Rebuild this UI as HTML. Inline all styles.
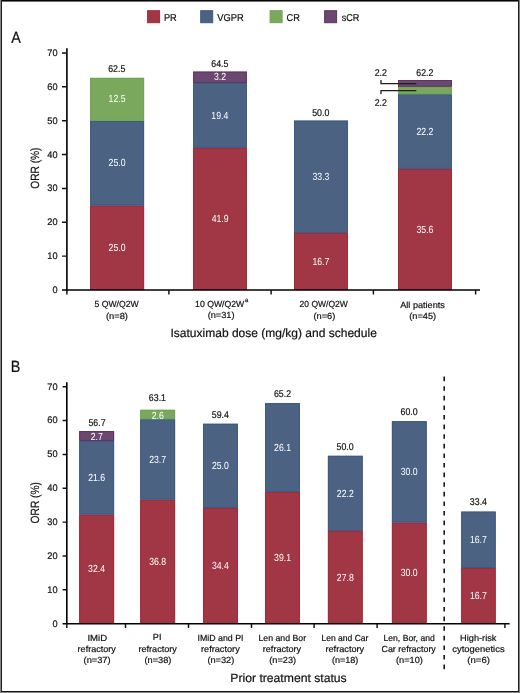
<!DOCTYPE html>
<html><head><meta charset="utf-8"><style>
html,body{margin:0;padding:0;background:#fff;}
body{width:520px;height:693px;overflow:hidden;position:relative;}
svg{position:absolute;left:0;top:0;will-change:transform;}
text{text-rendering:geometricPrecision;font-family:'Liberation Sans', sans-serif;}
text[fill='#111']{stroke:#111;stroke-width:0.2px;}
</style></head><body>
<svg width="520" height="693" viewBox="0 0 520 693">
<rect x="0" y="0" width="520" height="693" fill="#fff"/>
<rect x="0" y="0" width="1" height="693" fill="#868686"/>
<rect x="519" y="0" width="1" height="693" fill="#828282"/>
<rect x="0" y="692" width="520" height="1" fill="#868686"/>
<rect x="1" y="1" width="517" height="1" fill="#727272"/>
<rect x="1" y="0" width="518" height="1" fill="#050505"/>
<rect x="1" y="0" width="1" height="692" fill="#1e1e1e"/>
<rect x="518" y="0" width="1" height="692" fill="#1e1e1e"/>
<rect x="1" y="691" width="518" height="1" fill="#1a1a1a"/>
<rect x="90.10" y="205.40" width="54.00" height="84.60" fill="#A13744"/>
<rect x="90.60" y="205.90" width="53.00" height="83.60" fill="none" stroke="#A62838" stroke-width="1"/>
<rect x="90.10" y="120.80" width="54.00" height="84.60" fill="#4C6282"/>
<rect x="90.60" y="121.30" width="53.00" height="83.60" fill="none" stroke="#3B5A86" stroke-width="1"/>
<rect x="90.10" y="77.85" width="54.00" height="42.95" fill="#7AA85C"/>
<rect x="90.60" y="78.35" width="53.00" height="41.95" fill="none" stroke="#6FA552" stroke-width="1"/>
<rect x="193.10" y="147.80" width="53.80" height="142.20" fill="#A13744"/>
<rect x="193.60" y="148.30" width="52.80" height="141.20" fill="none" stroke="#A62838" stroke-width="1"/>
<rect x="193.10" y="82.90" width="53.80" height="64.90" fill="#4C6282"/>
<rect x="193.60" y="83.40" width="52.80" height="63.90" fill="none" stroke="#3B5A86" stroke-width="1"/>
<rect x="193.10" y="71.60" width="53.80" height="11.30" fill="#6C4870"/>
<rect x="193.60" y="72.10" width="52.80" height="10.30" fill="none" stroke="#5E3461" stroke-width="1"/>
<rect x="294.00" y="232.90" width="53.90" height="57.10" fill="#A13744"/>
<rect x="294.50" y="233.40" width="52.90" height="56.10" fill="none" stroke="#A62838" stroke-width="1"/>
<rect x="294.00" y="120.60" width="53.90" height="112.30" fill="#4C6282"/>
<rect x="294.50" y="121.10" width="52.90" height="111.30" fill="none" stroke="#3B5A86" stroke-width="1"/>
<rect x="398.00" y="168.85" width="53.90" height="121.15" fill="#A13744"/>
<rect x="398.50" y="169.35" width="52.90" height="120.15" fill="none" stroke="#A62838" stroke-width="1"/>
<rect x="398.00" y="94.20" width="53.90" height="74.65" fill="#4C6282"/>
<rect x="398.50" y="94.70" width="52.90" height="73.65" fill="none" stroke="#3B5A86" stroke-width="1"/>
<rect x="398.00" y="86.70" width="53.90" height="7.50" fill="#7AA85C"/>
<rect x="398.50" y="87.20" width="52.90" height="6.50" fill="none" stroke="#6FA552" stroke-width="1"/>
<rect x="398.00" y="80.00" width="53.90" height="6.70" fill="#6C4870"/>
<rect x="398.50" y="80.50" width="52.90" height="5.70" fill="none" stroke="#5E3461" stroke-width="1"/>
<rect x="79.20" y="514.50" width="34.90" height="109.20" fill="#A13744"/>
<rect x="79.70" y="515.00" width="33.90" height="108.20" fill="none" stroke="#A62838" stroke-width="1"/>
<rect x="79.20" y="440.90" width="34.90" height="73.60" fill="#4C6282"/>
<rect x="79.70" y="441.40" width="33.90" height="72.60" fill="none" stroke="#3B5A86" stroke-width="1"/>
<rect x="79.20" y="431.10" width="34.90" height="9.80" fill="#6C4870"/>
<rect x="79.70" y="431.60" width="33.90" height="8.80" fill="none" stroke="#5E3461" stroke-width="1"/>
<rect x="140.20" y="499.60" width="34.90" height="124.10" fill="#A13744"/>
<rect x="140.70" y="500.10" width="33.90" height="123.10" fill="none" stroke="#A62838" stroke-width="1"/>
<rect x="140.20" y="419.20" width="34.90" height="80.40" fill="#4C6282"/>
<rect x="140.70" y="419.70" width="33.90" height="79.40" fill="none" stroke="#3B5A86" stroke-width="1"/>
<rect x="140.20" y="409.80" width="34.90" height="9.40" fill="#7AA85C"/>
<rect x="140.70" y="410.30" width="33.90" height="8.40" fill="none" stroke="#6FA552" stroke-width="1"/>
<rect x="203.00" y="507.90" width="35.00" height="115.80" fill="#A13744"/>
<rect x="203.50" y="508.40" width="34.00" height="114.80" fill="none" stroke="#A62838" stroke-width="1"/>
<rect x="203.00" y="423.75" width="35.00" height="84.15" fill="#4C6282"/>
<rect x="203.50" y="424.25" width="34.00" height="83.15" fill="none" stroke="#3B5A86" stroke-width="1"/>
<rect x="265.00" y="491.90" width="35.00" height="131.80" fill="#A13744"/>
<rect x="265.50" y="492.40" width="34.00" height="130.80" fill="none" stroke="#A62838" stroke-width="1"/>
<rect x="265.00" y="403.10" width="35.00" height="88.80" fill="#4C6282"/>
<rect x="265.50" y="403.60" width="34.00" height="87.80" fill="none" stroke="#3B5A86" stroke-width="1"/>
<rect x="327.90" y="530.90" width="34.80" height="92.80" fill="#A13744"/>
<rect x="328.40" y="531.40" width="33.80" height="91.80" fill="none" stroke="#A62838" stroke-width="1"/>
<rect x="327.90" y="455.80" width="34.80" height="75.10" fill="#4C6282"/>
<rect x="328.40" y="456.30" width="33.80" height="74.10" fill="none" stroke="#3B5A86" stroke-width="1"/>
<rect x="391.90" y="522.50" width="34.80" height="101.20" fill="#A13744"/>
<rect x="392.40" y="523.00" width="33.80" height="100.20" fill="none" stroke="#A62838" stroke-width="1"/>
<rect x="391.90" y="421.20" width="34.80" height="101.30" fill="#4C6282"/>
<rect x="392.40" y="421.70" width="33.80" height="100.30" fill="none" stroke="#3B5A86" stroke-width="1"/>
<rect x="461.20" y="568.00" width="34.50" height="55.70" fill="#A13744"/>
<rect x="461.70" y="568.50" width="33.50" height="54.70" fill="none" stroke="#A62838" stroke-width="1"/>
<rect x="461.20" y="511.60" width="34.50" height="56.40" fill="#4C6282"/>
<rect x="461.70" y="512.10" width="33.50" height="55.40" fill="none" stroke="#3B5A86" stroke-width="1"/>
<path d="M66.9 48.2V290.9M62 290.0H480M66.8 382.2V624.6M62.6 623.75H509.6" stroke="#000" stroke-width="1.6" fill="none"/>
<path d="M62 256.14H66.7M62 222.28H66.7M62 188.42H66.7M62 154.56H66.7M62 120.70H66.7M62 86.84H66.7M62 52.98H66.7M66.9 290.0V294.6M168.9 290.0V294.6M271.1 290.0V294.6M373.4 290.0V294.6M475.6 290.0V294.6M62.6 589.84H66.6M62.6 555.98H66.6M62.6 522.12H66.6M62.6 488.26H66.6M62.6 454.40H66.6M62.6 420.54H66.6M62.6 386.68H66.6M66.8 623.7V628M125.5 623.7V628M188.5 623.7V628M251.5 623.7V628M314.1 623.7V628M377.1 623.7V628M504.9 623.7V628" stroke="#111" stroke-width="1.45" fill="none"/>
<path d="M444.2 376.6V669.2" stroke="#1a1a1a" stroke-width="1.6" stroke-dasharray="4.6 5.0" fill="none"/>
<path d="M381 80V83.6H416.3M381 94V90.7H416.3" stroke="#1e1e1e" stroke-width="1.3" fill="none"/>
<rect x="147.60" y="10.7" width="12" height="12" fill="#A13744" stroke="#A62838"/>
<rect x="200.70" y="10.7" width="12" height="12" fill="#4C6282" stroke="#3B5A86"/>
<rect x="270.10" y="10.7" width="12" height="12" fill="#7AA85C" stroke="#6FA552"/>
<rect x="324.60" y="10.7" width="12" height="12" fill="#6C4870" stroke="#5E3461"/>
<text transform="translate(163.95 21.00) scale(0.9190 1)" font-size="10" fill="#111">PR</text>
<text transform="translate(217.27 21.00) scale(0.9345 1)" font-size="10" fill="#111">VGPR</text>
<text transform="translate(286.49 21.00) scale(0.9190 1)" font-size="10" fill="#111">CR</text>
<text transform="translate(341.67 21.00) scale(0.9120 1)" font-size="10" fill="#111">sCR</text>
<text transform="translate(11.30 43.00) scale(0.8888 1)" font-size="16.2" fill="#111">A</text>
<text transform="translate(10.85 372.00) scale(0.8888 1)" font-size="16.2" fill="#111">B</text>
<text transform="translate(52.40 293.00) scale(0.9700 1)" font-size="9.5" fill="#111">0</text>
<text transform="translate(47.31 259.00) scale(0.9700 1)" font-size="9.5" fill="#111">10</text>
<text transform="translate(47.31 225.00) scale(0.9700 1)" font-size="9.5" fill="#111">20</text>
<text transform="translate(47.31 191.00) scale(0.9700 1)" font-size="9.5" fill="#111">30</text>
<text transform="translate(47.31 158.00) scale(0.9700 1)" font-size="9.5" fill="#111">40</text>
<text transform="translate(47.31 124.00) scale(0.9700 1)" font-size="9.5" fill="#111">50</text>
<text transform="translate(47.31 90.00) scale(0.9700 1)" font-size="9.5" fill="#111">60</text>
<text transform="translate(47.31 56.00) scale(0.9700 1)" font-size="9.5" fill="#111">70</text>
<text transform="translate(52.40 627.00) scale(0.9700 1)" font-size="9.5" fill="#111">0</text>
<text transform="translate(47.31 593.00) scale(0.9700 1)" font-size="9.5" fill="#111">10</text>
<text transform="translate(47.31 559.00) scale(0.9700 1)" font-size="9.5" fill="#111">20</text>
<text transform="translate(47.31 525.00) scale(0.9700 1)" font-size="9.5" fill="#111">30</text>
<text transform="translate(47.31 491.00) scale(0.9700 1)" font-size="9.5" fill="#111">40</text>
<text transform="translate(47.31 457.00) scale(0.9700 1)" font-size="9.5" fill="#111">50</text>
<text transform="translate(47.31 423.00) scale(0.9700 1)" font-size="9.5" fill="#111">60</text>
<text transform="translate(47.31 390.00) scale(0.9700 1)" font-size="9.5" fill="#111">70</text>
<text transform="translate(108.20 72.00) scale(0.8986 1)" font-size="9.8" fill="#111">62.5</text>
<text transform="translate(211.30 67.00) scale(0.8986 1)" font-size="9.8" fill="#111">64.5</text>
<text transform="translate(312.15 116.00) scale(0.8986 1)" font-size="9.8" fill="#111">50.0</text>
<text transform="translate(416.26 76.00) scale(0.8986 1)" font-size="9.8" fill="#111">62.2</text>
<text transform="translate(374.72 76.00) scale(0.8986 1)" font-size="9.8" fill="#111">2.2</text>
<text transform="translate(374.72 106.00) scale(0.8986 1)" font-size="9.8" fill="#111">2.2</text>
<text transform="translate(88.46 426.00) scale(0.8986 1)" font-size="9.8" fill="#111">56.7</text>
<text transform="translate(148.86 401.00) scale(0.8986 1)" font-size="9.8" fill="#111">63.1</text>
<text transform="translate(211.80 418.00) scale(0.8986 1)" font-size="9.8" fill="#111">59.4</text>
<text transform="translate(273.91 397.00) scale(0.8986 1)" font-size="9.8" fill="#111">65.2</text>
<text transform="translate(336.55 450.00) scale(0.8986 1)" font-size="9.8" fill="#111">50.0</text>
<text transform="translate(400.55 415.00) scale(0.8986 1)" font-size="9.8" fill="#111">60.0</text>
<text transform="translate(469.85 505.00) scale(0.8986 1)" font-size="9.8" fill="#111">33.4</text>
<text transform="translate(108.55 251.00) scale(0.8447 1)" font-size="10.3" fill="#fff">25.0</text>
<text transform="translate(108.55 166.00) scale(0.8447 1)" font-size="10.3" fill="#fff">25.0</text>
<text transform="translate(108.55 102.00) scale(0.8447 1)" font-size="10.3" fill="#fff">12.5</text>
<text transform="translate(211.66 222.00) scale(0.8447 1)" font-size="10.3" fill="#fff">41.9</text>
<text transform="translate(211.34 119.00) scale(0.8447 1)" font-size="10.3" fill="#fff">19.4</text>
<text transform="translate(213.98 80.00) scale(0.8447 1)" font-size="10.3" fill="#fff">3.2</text>
<text transform="translate(312.40 265.00) scale(0.8447 1)" font-size="10.3" fill="#fff">16.7</text>
<text transform="translate(312.50 180.00) scale(0.8447 1)" font-size="10.3" fill="#fff">33.3</text>
<text transform="translate(416.50 233.00) scale(0.8447 1)" font-size="10.3" fill="#fff">35.6</text>
<text transform="translate(416.50 135.00) scale(0.8447 1)" font-size="10.3" fill="#fff">22.2</text>
<text transform="translate(88.10 572.00) scale(0.8447 1)" font-size="10.3" fill="#fff">32.4</text>
<text transform="translate(88.20 481.00) scale(0.8447 1)" font-size="10.3" fill="#fff">21.6</text>
<text transform="translate(90.63 440.00) scale(0.8447 1)" font-size="10.3" fill="#fff">2.7</text>
<text transform="translate(149.20 565.00) scale(0.8447 1)" font-size="10.3" fill="#fff">36.8</text>
<text transform="translate(149.20 463.00) scale(0.8447 1)" font-size="10.3" fill="#fff">23.7</text>
<text transform="translate(151.63 419.00) scale(0.8447 1)" font-size="10.3" fill="#fff">2.6</text>
<text transform="translate(211.95 569.00) scale(0.8447 1)" font-size="10.3" fill="#fff">34.4</text>
<text transform="translate(211.95 469.00) scale(0.8447 1)" font-size="10.3" fill="#fff">25.0</text>
<text transform="translate(274.05 561.00) scale(0.8447 1)" font-size="10.3" fill="#fff">39.1</text>
<text transform="translate(274.05 451.00) scale(0.8447 1)" font-size="10.3" fill="#fff">26.1</text>
<text transform="translate(336.85 581.00) scale(0.8447 1)" font-size="10.3" fill="#fff">27.8</text>
<text transform="translate(336.85 497.00) scale(0.8447 1)" font-size="10.3" fill="#fff">22.2</text>
<text transform="translate(400.75 576.00) scale(0.8447 1)" font-size="10.3" fill="#fff">30.0</text>
<text transform="translate(400.75 475.00) scale(0.8447 1)" font-size="10.3" fill="#fff">30.0</text>
<text transform="translate(469.90 599.00) scale(0.8447 1)" font-size="10.3" fill="#fff">16.7</text>
<text transform="translate(469.90 543.00) scale(0.8447 1)" font-size="10.3" fill="#fff">16.7</text>
<text transform="translate(94.41 307.00) scale(0.9865 1)" font-size="8.8" fill="#111">5 QW/Q2W</text>
<text transform="translate(195.06 307.00) scale(0.9878 1)" font-size="8.8" fill="#111">10 QW/Q2W</text>
<text transform="translate(299.62 307.00) scale(0.9665 1)" font-size="8.8" fill="#111">20 QW/Q2W</text>
<text transform="translate(400.20 308.00) scale(1.0386 1)" font-size="8.8" fill="#111">All patients</text>
<text transform="translate(105.97 319.00) scale(1.0582 1)" font-size="8.8" fill="#111">(n=8)</text>
<text transform="translate(207.68 318.00) scale(1.0465 1)" font-size="8.8" fill="#111">(n=31)</text>
<text transform="translate(313.47 319.00) scale(1.0532 1)" font-size="8.8" fill="#111">(n=6)</text>
<text transform="translate(409.28 319.00) scale(1.0424 1)" font-size="8.8" fill="#111">(n=45)</text>
<text transform="translate(87.38 641.00) scale(1.0882 1)" font-size="8.8" fill="#111">IMiD</text>
<text transform="translate(77.59 652.00) scale(1.0274 1)" font-size="8.8" fill="#111">refractory</text>
<text transform="translate(83.57 663.00) scale(1.0505 1)" font-size="8.8" fill="#111">(n=37)</text>
<text transform="translate(152.81 640.00) scale(1.0411 1)" font-size="8.8" fill="#111">PI</text>
<text transform="translate(138.48 652.00) scale(1.0329 1)" font-size="8.8" fill="#111">refractory</text>
<text transform="translate(144.48 663.00) scale(1.0465 1)" font-size="8.8" fill="#111">(n=38)</text>
<text transform="translate(197.55 641.00) scale(1.0000 1)" font-size="8.8" fill="#111">IMiD and PI</text>
<text transform="translate(200.98 652.00) scale(1.0438 1)" font-size="8.8" fill="#111">refractory</text>
<text transform="translate(207.38 663.00) scale(1.0465 1)" font-size="8.8" fill="#111">(n=32)</text>
<text transform="translate(258.45 641.00) scale(0.9936 1)" font-size="8.8" fill="#111">Len and Bor</text>
<text transform="translate(262.78 652.00) scale(1.0329 1)" font-size="8.8" fill="#111">refractory</text>
<text transform="translate(269.28 663.00) scale(1.0424 1)" font-size="8.8" fill="#111">(n=23)</text>
<text transform="translate(321.47 641.00) scale(0.9705 1)" font-size="8.8" fill="#111">Len and Car</text>
<text transform="translate(325.48 652.00) scale(1.0411 1)" font-size="8.8" fill="#111">refractory</text>
<text transform="translate(331.99 663.00) scale(1.0263 1)" font-size="8.8" fill="#111">(n=18)</text>
<text transform="translate(383.46 641.00) scale(0.9804 1)" font-size="8.8" fill="#111">Len, Bor, and</text>
<text transform="translate(381.49 652.00) scale(1.0103 1)" font-size="8.8" fill="#111">Car refractory</text>
<text transform="translate(395.98 663.00) scale(1.0465 1)" font-size="8.8" fill="#111">(n=10)</text>
<text transform="translate(460.12 641.00) scale(1.0441 1)" font-size="8.8" fill="#111">High-risk</text>
<text transform="translate(452.26 652.00) scale(1.0708 1)" font-size="8.8" fill="#111">cytogenetics</text>
<text transform="translate(467.36 663.00) scale(1.0886 1)" font-size="8.8" fill="#111">(n=6)</text>
<text transform="translate(170.50 337.00) scale(1.0010 1)" font-size="12" fill="#111">Isatuximab dose (mg/kg) and schedule</text>
<text transform="translate(230.29 682.00) scale(1.0146 1)" font-size="12" fill="#111">Prior treatment status</text>
<text transform="translate(244.9 302) scale(0.95 1)" font-size="6.2" fill="#111">a</text>
<text transform="translate(38.9 168.15) rotate(-90) scale(0.856 1)" font-size="11.9" text-anchor="middle" fill="#111">ORR (%)</text>
<text transform="translate(38.9 502.75) rotate(-90) scale(0.856 1)" font-size="11.9" text-anchor="middle" fill="#111">ORR (%)</text>
</svg>
</body></html>
